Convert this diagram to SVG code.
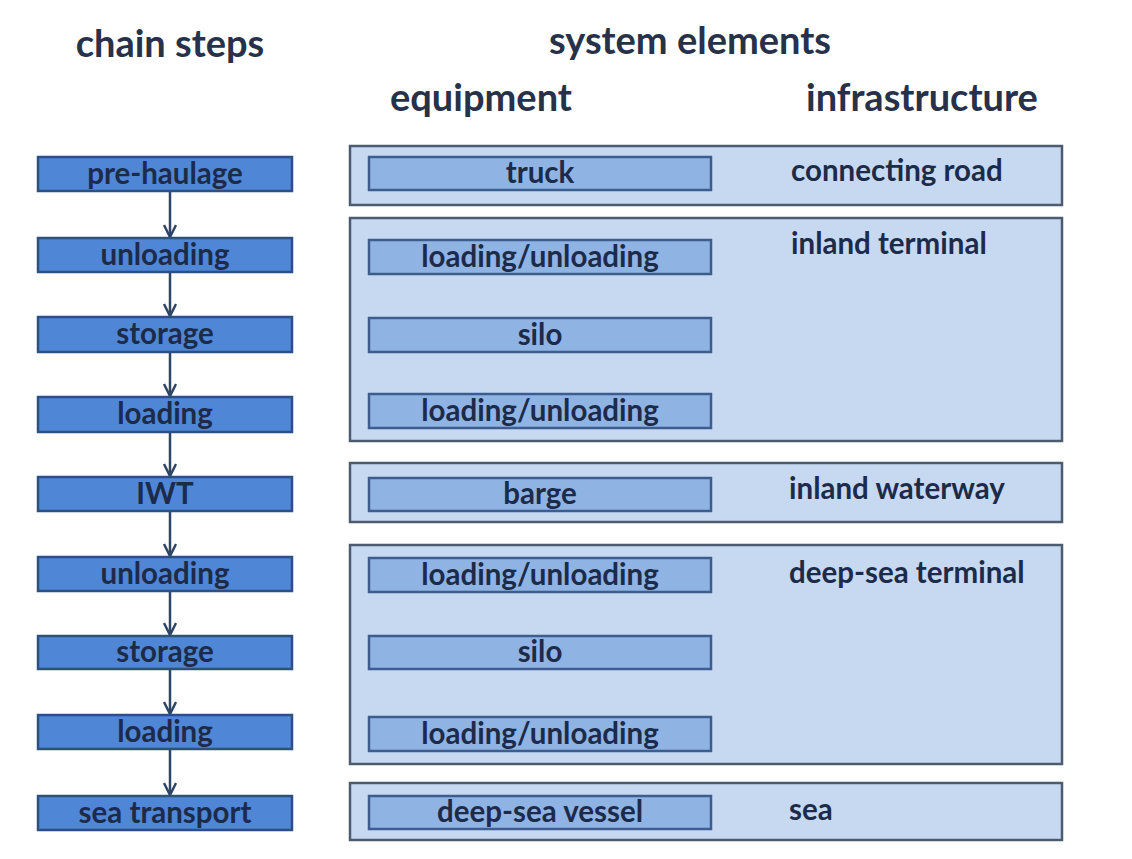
<svg xmlns="http://www.w3.org/2000/svg" width="1132" height="859" viewBox="0 0 1132 859">
<defs>
<style>
text{font-family:Lato,"Open Sans","Liberation Sans",sans-serif;font-weight:700;fill:#1c2b4a}
.hdr{font-size:38px;fill:#27324a;text-anchor:middle}
.lbl{font-size:29.5px;text-anchor:middle}
.inf{font-size:29.5px}
.step{fill:#4f86d6;stroke:#2d4f82;stroke-width:2.5}
.equip{fill:#8fb4e4;stroke:#3c5d8e;stroke-width:2.5}
.cont{fill:#c7d9f1;stroke:#4b5b70;stroke-width:2.5}
.conn{stroke:#2f4566;stroke-width:2.5;fill:none;marker-end:url(#arr)}
</style>
<marker id="arr" viewBox="0 0 14 14" refX="13" refY="7" markerWidth="14" markerHeight="14" markerUnits="userSpaceOnUse" orient="auto">
<path d="M1,1 L13,7 L1,13" fill="none" stroke="#2f4566" stroke-width="2.5"/>
</marker>
</defs>
<rect width="1132" height="859" fill="#ffffff"/>
<g id="headers">
<text class="hdr" x="170" y="57">chain steps</text>
<text class="hdr" x="690" y="54">system elements</text>
<text class="hdr" x="481" y="111">equipment</text>
<text class="hdr" x="922" y="111">infrastructure</text>
</g>
<g id="containers">
<g id="c-road"><rect class="cont" x="350" y="146" width="712" height="59"/><text class="inf" x="791" y="181">connecting road</text></g>
<g id="c-inland"><rect class="cont" x="350" y="218" width="712" height="223"/><text class="inf" x="791" y="254">inland terminal</text></g>
<g id="c-waterway"><rect class="cont" x="350" y="463" width="712" height="59"/><text class="inf" x="789" y="499">inland waterway</text></g>
<g id="c-deepsea"><rect class="cont" x="350" y="545" width="712" height="219"/><text class="inf" x="789" y="583">deep-sea terminal</text></g>
<g id="c-sea"><rect class="cont" x="350" y="783" width="712" height="57"/><text class="inf" x="789" y="820">sea</text></g>
</g>
<g id="equipment">
<g id="e-truck"><rect class="equip" x="369" y="157" width="342" height="33"/><text class="lbl" x="540" y="183">truck</text></g>
<g id="e-lu1"><rect class="equip" x="369" y="240" width="342" height="34"/><text class="lbl" x="540" y="267">loading/unloading</text></g>
<g id="e-silo1"><rect class="equip" x="369" y="318" width="342" height="34"/><text class="lbl" x="540" y="345">silo</text></g>
<g id="e-lu2"><rect class="equip" x="369" y="394" width="342" height="34"/><text class="lbl" x="540" y="421">loading/unloading</text></g>
<g id="e-barge"><rect class="equip" x="369" y="478" width="342" height="33"/><text class="lbl" x="540" y="504">barge</text></g>
<g id="e-lu3"><rect class="equip" x="369" y="558" width="342" height="34"/><text class="lbl" x="540" y="585">loading/unloading</text></g>
<g id="e-silo2"><rect class="equip" x="369" y="636" width="342" height="33"/><text class="lbl" x="540" y="662">silo</text></g>
<g id="e-lu4"><rect class="equip" x="369" y="717" width="342" height="34"/><text class="lbl" x="540" y="744">loading/unloading</text></g>
<g id="e-vessel"><rect class="equip" x="369" y="796" width="342" height="33"/><text class="lbl" x="540" y="822">deep-sea vessel</text></g>
</g>
<g id="connectors">
<line class="conn" x1="170" y1="192" x2="170" y2="237"/>
<line class="conn" x1="170" y1="273" x2="170" y2="316"/>
<line class="conn" x1="170" y1="352" x2="170" y2="396"/>
<line class="conn" x1="170" y1="432" x2="170" y2="476"/>
<line class="conn" x1="170" y1="511" x2="170" y2="556"/>
<line class="conn" x1="170" y1="591" x2="170" y2="635"/>
<line class="conn" x1="170" y1="669" x2="170" y2="714"/>
<line class="conn" x1="170" y1="749" x2="170" y2="795"/>
</g>
<g id="steps">
<g id="s-prehaulage"><rect class="step" x="38" y="157" width="254" height="34"/><text class="lbl" x="165" y="184">pre-haulage</text></g>
<g id="s-unloading1"><rect class="step" x="38" y="238" width="254" height="34"/><text class="lbl" x="165" y="265">unloading</text></g>
<g id="s-storage1"><rect class="step" x="38" y="317" width="254" height="35"/><text class="lbl" x="165" y="344">storage</text></g>
<g id="s-loading1"><rect class="step" x="38" y="397" width="254" height="35"/><text class="lbl" x="165" y="424">loading</text></g>
<g id="s-iwt"><rect class="step" x="38" y="477" width="254" height="34"/><text class="lbl" x="165" y="504">IWT</text></g>
<g id="s-unloading2"><rect class="step" x="38" y="557" width="254" height="34"/><text class="lbl" x="165" y="584">unloading</text></g>
<g id="s-storage2"><rect class="step" x="38" y="636" width="254" height="33"/><text class="lbl" x="165" y="662">storage</text></g>
<g id="s-loading2"><rect class="step" x="38" y="715" width="254" height="34"/><text class="lbl" x="165" y="742">loading</text></g>
<g id="s-sea"><rect class="step" x="38" y="796" width="254" height="34"/><text class="lbl" x="165" y="823">sea transport</text></g>
</g>
</svg>
